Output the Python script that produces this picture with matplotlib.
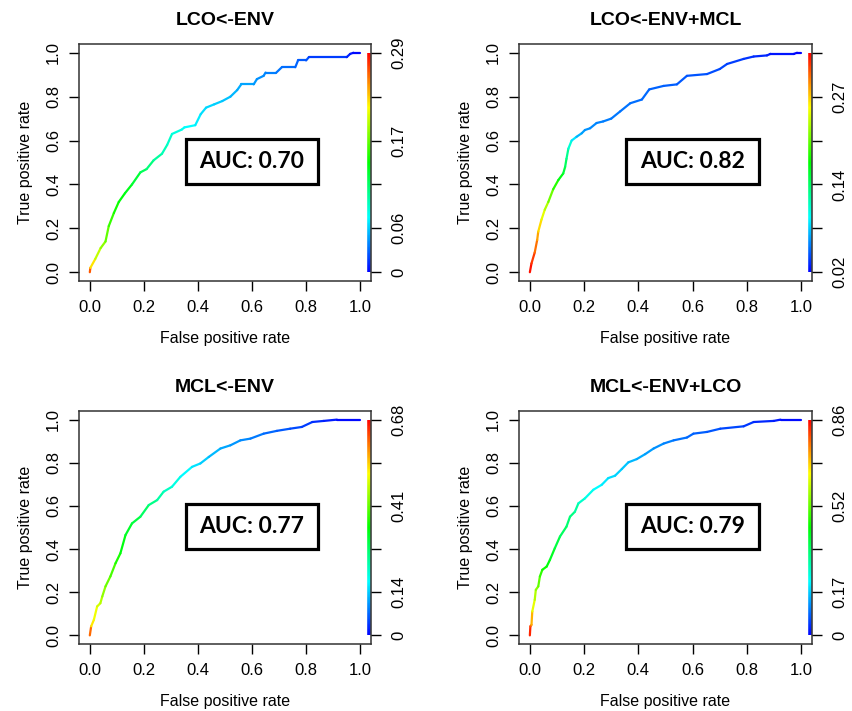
import numpy as np
import matplotlib
matplotlib.use("Agg")
import matplotlib.pyplot as plt
from matplotlib.collections import LineCollection
from matplotlib.colors import hsv_to_rgb
from matplotlib.patches import Rectangle

plt.rcParams['font.family'] = ['Liberation Sans', 'DejaVu Sans']

titles = ["LCO<-ENV", "LCO<-ENV+MCL", "MCL<-ENV", "MCL<-ENV+LCO"]
auc_labels = ["AUC: 0.70", "AUC: 0.82", "AUC: 0.77", "AUC: 0.79"]

# --- ROC curve 1: LCO<-ENV ---
fpr1 = [0.0, 0.002, 0.02, 0.04, 0.058, 0.07, 0.089, 0.107, 0.13, 0.156, 0.187, 0.21,
        0.236, 0.267, 0.286, 0.304, 0.34, 0.35, 0.39, 0.41, 0.43, 0.46, 0.49, 0.52,
        0.545, 0.56, 0.606, 0.618, 0.643, 0.65, 0.69, 0.71, 0.76, 0.77, 0.80, 0.81,
        0.95, 0.963, 0.975, 1.0]
tpr1 = [0.0, 0.02, 0.06, 0.11, 0.14, 0.21, 0.27, 0.32, 0.36, 0.40, 0.455, 0.47,
        0.51, 0.54, 0.58, 0.63, 0.65, 0.66, 0.67, 0.72, 0.75, 0.765, 0.78, 0.80,
        0.83, 0.856, 0.856, 0.88, 0.895, 0.91, 0.91, 0.934, 0.934, 0.965, 0.965, 0.98,
        0.98, 0.995, 1.0, 1.0]
cut1 = [0.29, 0.24, 0.21, 0.19, 0.18, 0.165, 0.155, 0.145, 0.14, 0.135, 0.125, 0.115,
        0.105, 0.095, 0.09, 0.085, 0.078, 0.075, 0.07, 0.065, 0.062, 0.06, 0.057, 0.054,
        0.05, 0.048, 0.045, 0.042, 0.04, 0.038, 0.035, 0.032, 0.03, 0.027, 0.025, 0.022,
        0.012, 0.008, 0.004, 0.0]

# --- ROC curve 2: LCO<-ENV+MCL ---
fpr2 = [0.0, 0.006, 0.018, 0.027, 0.031, 0.043, 0.055, 0.068, 0.086, 0.105, 0.123, 0.13,
        0.135, 0.142, 0.154, 0.172, 0.191, 0.203, 0.222, 0.246, 0.27, 0.30, 0.333, 0.37,
        0.413, 0.44, 0.493, 0.542, 0.579, 0.653, 0.70, 0.727, 0.788, 0.825, 0.874, 0.887,
        0.973, 0.985, 1.0]
tpr2 = [0.0, 0.04, 0.09, 0.147, 0.185, 0.24, 0.285, 0.32, 0.378, 0.42, 0.45, 0.48,
        0.517, 0.563, 0.60, 0.617, 0.633, 0.648, 0.656, 0.68, 0.687, 0.70, 0.733, 0.77,
        0.787, 0.833, 0.849, 0.856, 0.895, 0.903, 0.926, 0.949, 0.972, 0.983, 0.988, 0.995,
        0.995, 1.0, 1.0]
cut2 = [0.33, 0.32, 0.305, 0.287, 0.274, 0.253, 0.237, 0.22, 0.197, 0.175, 0.163, 0.153,
        0.141, 0.122, 0.10, 0.079, 0.07, 0.066, 0.063, 0.06, 0.059, 0.057, 0.056, 0.054,
        0.053, 0.051, 0.049, 0.048, 0.046, 0.045, 0.042, 0.04, 0.037, 0.034, 0.031, 0.029,
        0.023, 0.0215, 0.02]

# --- ROC curve 3: MCL<-ENV ---
fpr3 = [0.0, 0.005, 0.015, 0.027, 0.039, 0.046, 0.058, 0.076, 0.095, 0.113, 0.132, 0.156,
        0.187, 0.218, 0.249, 0.273, 0.304, 0.335, 0.378, 0.409, 0.44, 0.483, 0.52, 0.557,
        0.594, 0.643, 0.692, 0.741, 0.784, 0.823, 0.865, 0.914, 1.0]
tpr3 = [0.0, 0.042, 0.072, 0.134, 0.149, 0.18, 0.227, 0.273, 0.334, 0.38, 0.465, 0.519,
        0.55, 0.604, 0.627, 0.666, 0.689, 0.735, 0.781, 0.797, 0.827, 0.866, 0.881, 0.904,
        0.912, 0.935, 0.948, 0.958, 0.966, 0.989, 0.994, 1.0, 1.0]
cut3 = [0.68, 0.54, 0.51, 0.49, 0.47, 0.45, 0.42, 0.40, 0.375, 0.34, 0.32, 0.306,
        0.29, 0.26, 0.24, 0.218, 0.20, 0.177, 0.158, 0.143, 0.13, 0.116, 0.105, 0.095,
        0.088, 0.075, 0.064, 0.054, 0.045, 0.034, 0.025, 0.012, 0.0]

# --- ROC curve 4: MCL<-ENV+LCO ---
fpr4 = [0.0, 0.002, 0.006, 0.009, 0.018, 0.022, 0.031, 0.037, 0.046, 0.062, 0.074, 0.092,
        0.111, 0.135, 0.148, 0.166, 0.179, 0.203, 0.234, 0.265, 0.289, 0.314, 0.339, 0.363,
        0.394, 0.425, 0.456, 0.493, 0.53, 0.579, 0.603, 0.653, 0.702, 0.788, 0.825, 0.899,
        0.924, 1.0]
tpr4 = [0.0, 0.042, 0.049, 0.111, 0.165, 0.211, 0.227, 0.273, 0.304, 0.319, 0.35, 0.404,
        0.458, 0.504, 0.55, 0.573, 0.612, 0.635, 0.675, 0.698, 0.729, 0.74, 0.771, 0.802,
        0.817, 0.84, 0.866, 0.889, 0.904, 0.917, 0.935, 0.943, 0.958, 0.969, 0.989, 0.994,
        1.0, 1.0]
cut4 = [0.86, 0.80, 0.77, 0.65, 0.60, 0.56, 0.53, 0.49, 0.45, 0.43, 0.41, 0.39,
        0.36, 0.34, 0.33, 0.31, 0.28, 0.24, 0.225, 0.205, 0.19, 0.18, 0.172, 0.16,
        0.15, 0.138, 0.127, 0.115, 0.103, 0.09, 0.084, 0.077, 0.068, 0.052, 0.04, 0.026,
        0.018, 0.0]

fprs = [fpr1, fpr2, fpr3, fpr4]
tprs = [tpr1, tpr2, tpr3, tpr4]
cuts = [cut1, cut2, cut3, cut4]

# colour-bar ranges and labels (cutoff values)
cut_min = [0.0, 0.02, 0.0, 0.0]
cut_max = [0.29, 0.33, 0.68, 0.86]
cbar_labels = [["0", "0.06", "0.17", "0.29"],
               ["0.02", "0.14", "0.27"],
               ["0", "0.14", "0.41", "0.68"],
               ["0", "0.17", "0.52", "0.86"]]
cbar_label_pos = [[0.0, 0.2, 0.6, 1.0],
                  [0.0, 0.4, 0.8],
                  [0.0, 0.2, 0.6, 1.0],
                  [0.0, 0.2, 0.6, 1.0]]

ticks = [0.0, 0.2, 0.4, 0.6, 0.8, 1.0]
tick_text = ["0.0", "0.2", "0.4", "0.6", "0.8", "1.0"]


def rainbow(t):
    t = np.clip(np.asarray(t, dtype=float), 0, 1)
    h = (1.0 - t) * (4.0 / 6.0)
    hsv = np.stack([h, np.ones_like(h), np.ones_like(h)], axis=-1)
    return hsv_to_rgb(hsv)


fig = plt.figure(figsize=(8.53, 7.11), dpi=100)
W, H = 853.0, 711.0
# axes boxes in pixels: left, top, right, bottom
boxes = [(79, 44, 371, 281), (519, 44, 812, 281),
         (79, 411, 371, 644), (519, 411, 812, 644)]

for i in range(4):
    l, t_, r, b = boxes[i]
    ax = fig.add_axes([l / W, 1 - b / H, (r - l) / W, (b - t_) / H])
    ax.set_xlim(-0.04, 1.04)
    ax.set_ylim(-0.04, 1.04)

    x = np.array(fprs[i]); y = np.array(tprs[i]); c = np.array(cuts[i])
    tn = (c - cut_min[i]) / (cut_max[i] - cut_min[i])
    pts = np.column_stack([x, y]).reshape(-1, 1, 2)
    segs = np.concatenate([pts[:-1], pts[1:]], axis=1)
    cols = rainbow((tn[:-1] + tn[1:]) / 2)
    lc = LineCollection(segs, colors=cols, linewidths=1.6, capstyle='round', joinstyle='round')
    ax.add_collection(lc)

    # colour bar along the right edge
    yy = np.linspace(0, 1, 257)
    cb_pts = np.column_stack([np.full_like(yy, 1.032), yy]).reshape(-1, 1, 2)
    cb_segs = np.concatenate([cb_pts[:-1], cb_pts[1:]], axis=1)
    cb_cols = rainbow((yy[:-1] + yy[1:]) / 2)
    ax.add_collection(LineCollection(cb_segs, colors=cb_cols, linewidths=2.6, capstyle='butt'))

    # AUC box
    ax.add_patch(Rectangle((0.355, 0.40), 0.49, 0.207, fill=False, ec='black', lw=2.3, zorder=5))
    ax.text(0.6, 0.503, auc_labels[i], ha='center', va='center', fontsize=16.5,
            fontweight='bold', family=['Lato', 'DejaVu Sans'], zorder=6)

    ax.set_xticks(ticks)
    ax.set_xticklabels(tick_text)
    ax.set_yticks(ticks)
    ax.set_yticklabels(tick_text, rotation=90, va='center')
    ax.tick_params(axis='both', length=7, width=1.0, labelsize=12, color='black')
    ax.tick_params(axis='x', pad=7)
    ax.tick_params(axis='y', pad=6)
    for s in ax.spines.values():
        s.set_color('#333333'); s.set_linewidth(1.1)

    ax.set_title(titles[i], fontsize=14, fontweight='bold', pad=14)
    ax.set_xlabel("False positive rate", fontsize=11.5, labelpad=11)
    ax.set_ylabel("True positive rate", fontsize=11.5, labelpad=9)

    ax2 = ax.twinx()
    ax2.set_ylim(-0.04, 1.04)
    ax2.set_yticks(ticks)
    lab = [''] * len(ticks)
    for p, s in zip(cbar_label_pos[i], cbar_labels[i]):
        lab[ticks.index(p)] = s
    ax2.set_yticklabels(lab, rotation=90, va='center')
    ax2.tick_params(axis='y', length=7, width=1.0, labelsize=12, pad=8)
    for s in ax2.spines.values():
        s.set_visible(False)

fig.savefig("out.png", dpi=100)
